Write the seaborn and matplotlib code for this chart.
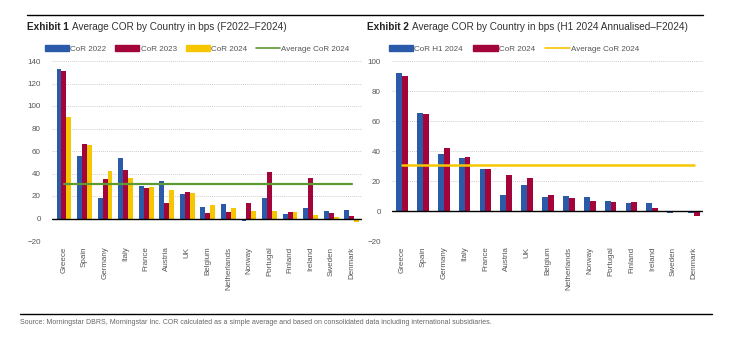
import matplotlib
matplotlib.use("Agg")
import matplotlib.pyplot as plt
import seaborn as sns
import pandas as pd
from matplotlib.patches import Patch
from matplotlib.lines import Line2D

sns.set_theme(style="white")
plt.rcParams['font.family'] = ['Liberation Sans', 'DejaVu Sans']

countries1 = ["Greece", "Spain", "Germany", "Italy", "France", "Austria", "UK", "Belgium",
              "Netherlands", "Norway", "Portugal", "Finland", "Ireland", "Sweden", "Denmark"]
cor2022 = [133, 56, 18, 54, 29, 33, 22, 10, 13, -2, 18, 4, 9, 7, 8]
cor2023 = [131, 66, 35, 43, 27, 14, 24, 5, 6, 14, 41, 6, 36, 5, 2]
cor2024 = [90, 65, 42, 36, 28, 25, 23, 12, 9, 7, 7, 6, 3, 1, -3]
avg2024_left = 30.5

countries2 = ["Greece", "Spain", "Germany", "Italy", "France", "Austria", "UK", "Belgium",
              "Netherlands", "Norway", "Portugal", "Finland", "Ireland", "Sweden", "Denmark"]
corH1 = [92, 65.5, 38, 35.5, 28, 11, 17.5, 9.5, 10, 9.5, 7, 5.5, 5.5, -1, -1.5]
cor2024b = [90, 65, 42, 36, 28, 24, 22, 11, 9, 6.5, 6, 6, 2, 0, -3.5]
avg2024_right = 31

BLUE = "#2B5BA8"
RED = "#A3053A"
YEL = "#F6C600"
GRN = "#5E9A34"
GRID = "#cfcfcf"
TXT = "#555555"

df1 = pd.DataFrame({"country": countries1 * 3,
                    "value": cor2022 + cor2023 + cor2024,
                    "series": ["CoR 2022"] * 15 + ["CoR 2023"] * 15 + ["CoR 2024"] * 15})
df2 = pd.DataFrame({"country": countries2 * 2,
                    "value": corH1 + cor2024b,
                    "series": ["CoR H1 2024"] * 15 + ["CoR 2024"] * 15})

fig = plt.figure(figsize=(7.33, 3.41), dpi=100)
ax1 = fig.add_axes([52/733, 1-241/341, 310/733, 180/341])
ax2 = fig.add_axes([392/733, 1-241/341, 311/733, 180/341])

sns.barplot(data=df1, x="country", y="value", hue="series", ax=ax1,
            palette=[BLUE, RED, YEL], width=0.72, gap=0, legend=False, saturation=1,
            linewidth=0, edgecolor="none", errorbar=None)
sns.barplot(data=df2, x="country", y="value", hue="series", ax=ax2,
            palette=[BLUE, RED], width=0.56, gap=0, legend=False, saturation=1,
            linewidth=0, edgecolor="none", errorbar=None)

ax1.plot([0, 14], [avg2024_left, avg2024_left], color=GRN, lw=1.6, zorder=5)
ax2.plot([0, 14], [avg2024_right, avg2024_right], color=YEL, lw=1.8, zorder=5)

for ax, lo, hi, xl in [(ax1, -20, 140, (-0.58, 14.5)), (ax2, -20, 100, (-0.48, 14.43))]:
    ax.set_ylim(lo, hi)
    ax.set_xlim(*xl)
    ax.set_yticks(range(lo, hi + 1, 20))
    for y in range(lo, hi + 1, 20):
        if y != 0:
            ax.axhline(y, color=GRID, lw=0.7, ls=(0, (1, 1)), zorder=0)
    ax.axhline(0, color="black", lw=1.0, zorder=4)
    for s in ax.spines.values():
        s.set_visible(False)
    ax.set_xlabel("")
    ax.set_ylabel("")
    ax.tick_params(axis="x", labelrotation=90, labelsize=5.8, colors=TXT, length=0, pad=4)
    ax.tick_params(axis="y", labelsize=5.8, colors=TXT, length=0, pad=8)
    ax.grid(False)

# legends
h1 = [Patch(color=BLUE), Patch(color=RED), Patch(color=YEL), Line2D([], [], color=GRN, lw=1.2)]
ax1.legend(h1, ["CoR 2022", "CoR 2023", "CoR 2024", "Average CoR 2024"], loc="lower left",
           bbox_to_anchor=(-0.023, 1.045), ncol=4, frameon=False, fontsize=5.8,
           handlelength=3.0, handleheight=0.7, handletextpad=0.15, columnspacing=1.1,
           borderpad=0, borderaxespad=0, labelcolor=TXT)
h2 = [Patch(color=BLUE), Patch(color=RED), Line2D([], [], color=YEL, lw=1.2)]
ax2.legend(h2, ["CoR H1 2024", "CoR 2024", "Average CoR 2024"], loc="lower left",
           bbox_to_anchor=(-0.01, 1.045), ncol=3, frameon=False, fontsize=5.8,
           handlelength=3.0, handleheight=0.7, handletextpad=0.15, columnspacing=1.3,
           borderpad=0, borderaxespad=0, labelcolor=TXT)

# rules
fig.add_artist(Line2D([27/733, 703/733], [1-15/341, 1-15/341], color="black", lw=1.0))
fig.add_artist(Line2D([20/733, 712/733], [1-314/341, 1-314/341], color="black", lw=1.0))

# titles
fig.canvas.draw()
renderer = fig.canvas.get_renderer()

def title(x, bold, rest):
    t = fig.text(x/733, 1-27/341, bold, fontsize=7.2, fontweight="bold", va="center", color="#222222")
    bb = t.get_window_extent(renderer)
    fig.text((bb.x1 + 3)/733, 1-27/341, rest, fontsize=7.2, va="center", color="#333333")

title(27, "Exhibit 1", "Average COR by Country in bps (F2022\u2013F2024)")
title(367, "Exhibit 2", "Average COR by Country in bps (H1 2024 Annualised\u2013F2024)")

fig.text(20/733, 1-323/341, "Source: Morningstar DBRS, Morningstar Inc. COR calculated as a simple average and based on consolidated data including international subsidiaries.",
         fontsize=5.0, va="center", color="#666666")

fig.savefig("out.png", dpi=100)
